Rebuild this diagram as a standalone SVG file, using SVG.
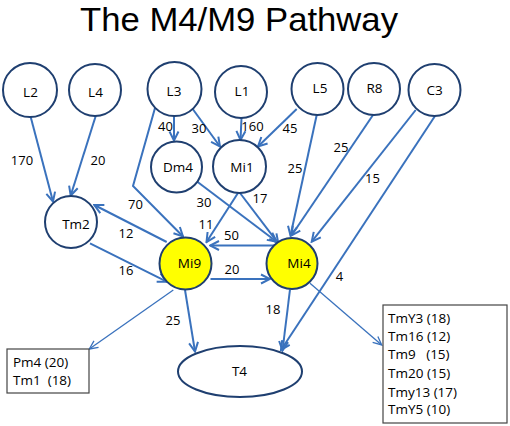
<svg xmlns="http://www.w3.org/2000/svg" width="510" height="426" viewBox="0 0 510 426">
<style>
text { font-family: "Open Sans", "Liberation Sans", sans-serif; fill: #000; }
.title { font-family: "Liberation Sans", "Open Sans", sans-serif; font-size: 33px; }
.nl { font-size: 13.5px; text-anchor: middle; }
.el { font-size: 13px; text-anchor: middle; }
.bl { font-size: 13.5px; white-space: pre; }
.node { fill: #fff; stroke: #1f3f70; stroke-width: 2; }
.hl { fill: #ffff00; }
.c { fill: none; stroke: #3a72bd; stroke-width: 2; marker-end: url(#arr); }
.t { fill: none; stroke: #3a72bd; stroke-width: 1.3; marker-end: url(#arrT); }
.box { fill: #fff; stroke: #444; stroke-width: 1.2; }
</style>
<defs>
<marker id="arr" markerUnits="userSpaceOnUse" viewBox="0 0 12 12" markerWidth="12" markerHeight="12" refX="10.5" refY="6" orient="auto">
<path d="M1.5,1.5 L10.5,6 L1.5,10.5" fill="none" stroke="#3a72bd" stroke-width="2"/>
</marker>
<marker id="arrT" markerUnits="userSpaceOnUse" viewBox="0 0 12 12" markerWidth="12" markerHeight="12" refX="10.5" refY="6" orient="auto">
<path d="M2,2 L10.5,6 L2,10" fill="none" stroke="#3a72bd" stroke-width="1.3"/>
</marker>
</defs>
<rect width="510" height="426" fill="#fff"/>
<text class="title" x="80" y="30.5" textLength="318" lengthAdjust="spacingAndGlyphs">The M4/M9 Pathway</text>

<g id="connectors">
<line class="c" x1="30.7" y1="117" x2="53" y2="201.5"/>
<line class="c" x1="95.7" y1="116" x2="70.7" y2="195.5"/>
<polyline class="c" points="155,108 133,186 183,236.5"/>
<line class="c" x1="174" y1="116" x2="174" y2="140.5"/>
<line class="c" x1="192.7" y1="109" x2="220" y2="146.5"/>
<line class="c" x1="241.5" y1="118" x2="240.5" y2="140"/>
<line class="c" x1="296.7" y1="109" x2="258" y2="146.5"/>
<line class="c" x1="316.7" y1="115" x2="290.5" y2="235.5"/>
<line class="c" x1="373" y1="115" x2="291.5" y2="235.5"/>
<line class="c" x1="415.7" y1="110" x2="311.7" y2="241.7"/>
<line class="c" x1="435" y1="116" x2="281" y2="350"/>
<line class="c" x1="195" y1="180" x2="276.7" y2="241.7"/>
<line class="c" x1="240" y1="193" x2="278.3" y2="243.3"/>
<line class="c" x1="238.3" y1="192.5" x2="206.5" y2="242"/>
<line class="c" x1="275" y1="245.5" x2="210" y2="245.5"/>
<line class="c" x1="210.5" y1="279" x2="270" y2="279"/>
<line class="c" x1="166.7" y1="242" x2="94.3" y2="205"/>
<line class="c" x1="90" y1="243.3" x2="166.7" y2="281.7"/>
<line class="t" x1="173.3" y1="290" x2="89.3" y2="349"/>
<line class="c" x1="185" y1="290" x2="195" y2="351.5"/>
<line class="c" x1="290" y1="289.5" x2="282.5" y2="350.5"/>
<line class="t" x1="310" y1="283.3" x2="381.7" y2="345"/>
</g>

<g id="edge-labels">
<text class="el" x="22" y="165">170</text>
<text class="el" x="98" y="165">20</text>
<text class="el" x="165.5" y="131">40</text>
<text class="el" x="199" y="133">30</text>
<text class="el" x="252.5" y="131">160</text>
<text class="el" x="290" y="133">45</text>
<text class="el" x="341" y="152">25</text>
<text class="el" x="295" y="172.5">25</text>
<text class="el" x="372.5" y="183">15</text>
<text class="el" x="135.5" y="209">70</text>
<text class="el" x="204" y="206.5">30</text>
<text class="el" x="260" y="203">17</text>
<text class="el" x="206" y="229">11</text>
<text class="el" x="231.5" y="240">50</text>
<text class="el" x="126" y="238">12</text>
<text class="el" x="126" y="275">16</text>
<text class="el" x="232" y="274">20</text>
<text class="el" x="173" y="325">25</text>
<text class="el" x="273" y="314">18</text>
<text class="el" x="339.5" y="280.5">4</text>
</g>

<g id="L2"><circle class="node" cx="30" cy="90" r="27"/><text class="nl" x="30.5" y="96.5">L2</text></g>
<g id="L4"><circle class="node" cx="95" cy="90" r="26"/><text class="nl" x="95.5" y="97">L4</text></g>
<g id="L3"><circle class="node" cx="174.5" cy="89" r="27"/><text class="nl" x="174" y="95.5">L3</text></g>
<g id="L1"><circle class="node" cx="241" cy="92" r="26"/><text class="nl" x="242" y="96">L1</text></g>
<g id="L5"><circle class="node" cx="317.5" cy="89" r="26"/><text class="nl" x="320" y="93">L5</text></g>
<g id="R8"><circle class="node" cx="374" cy="89" r="26"/><text class="nl" x="374.5" y="93">R8</text></g>
<g id="C3"><circle class="node" cx="434.5" cy="90" r="26"/><text class="nl" x="434.5" y="95">C3</text></g>
<g id="Dm4"><circle class="node" cx="176.5" cy="167" r="25.5"/><text class="nl" x="178" y="171.5">Dm4</text></g>
<g id="Mi1"><circle class="node" cx="239.5" cy="166.5" r="26.5"/><text class="nl" x="242" y="172">Mi1</text></g>
<g id="Tm2"><circle class="node" cx="71" cy="222" r="26"/><text class="nl" x="76" y="229">Tm2</text></g>
<g id="Mi9"><circle class="node hl" cx="185.5" cy="263.5" r="26"/><text class="nl" x="189.5" y="268">Mi9</text></g>
<g id="Mi4"><circle class="node hl" cx="292" cy="263.5" r="25.5"/><text class="nl" x="299" y="268">Mi4</text></g>
<g id="T4"><ellipse class="node" cx="240" cy="371.5" rx="62" ry="25.5"/><text class="nl" x="239.5" y="376">T4</text></g>

<g id="box-left">
<rect class="box" x="7" y="349" width="82" height="44"/>
<text class="bl" x="13" y="367">Pm4 (20)</text>
<text class="bl" x="13" y="385">Tm1  (18)</text>
</g>
<g id="box-right">
<rect class="box" x="383" y="305" width="124" height="118"/>
<text class="bl" x="388" y="322.7">TmY3 (18)</text>
<text class="bl" x="388" y="341">Tm16 (12)</text>
<text class="bl" x="388" y="359.3">Tm9   (15)</text>
<text class="bl" x="388" y="377.7">Tm20 (15)</text>
<text class="bl" x="388" y="396.5">Tmy13 (17)</text>
<text class="bl" x="388" y="414">TmY5 (10)</text>
</g>
</svg>
